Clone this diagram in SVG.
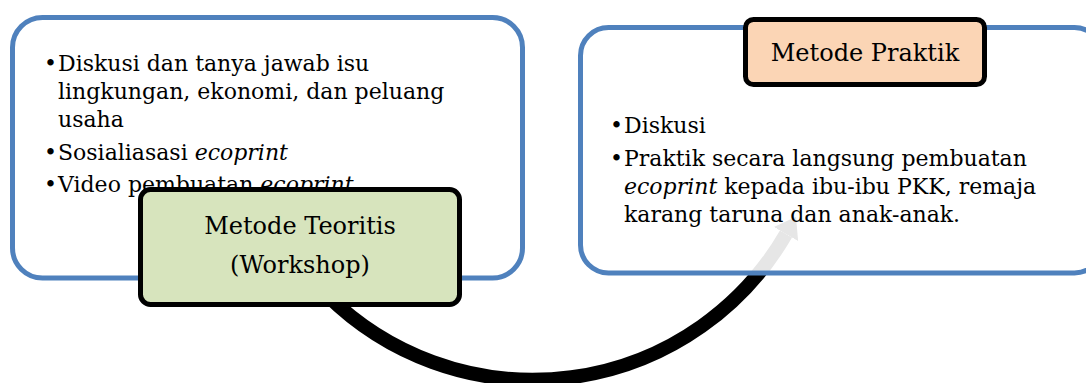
<svg xmlns="http://www.w3.org/2000/svg" width="1086" height="383" viewBox="0 0 1086 383">
<style>
.frame{fill:#fff;stroke:#4F81BD;stroke-width:5}
.body{font-family:"DejaVu Serif","Liberation Serif",serif;font-size:22px;fill:#000}
.lbl{font-family:"DejaVu Serif","Liberation Serif",serif;font-size:24px;fill:#000;text-anchor:middle}
.it{font-style:italic}
.node{stroke:#000;stroke-width:5}
</style>
<defs>
<marker id="head" markerUnits="userSpaceOnUse" markerWidth="22" markerHeight="30" refX="0" refY="14" orient="auto" viewBox="0 0 22 28">
<path d="M0,0 L20,14 L0,28 z" fill="#000"/>
</marker>
</defs>
<g id="box-teoritis-content">
<rect class="frame" x="12.5" y="17.5" width="510" height="260.5" rx="30"/>
<text class="body" x="44" y="71">•</text>
<text class="body" x="58" y="71">Diskusi dan tanya jawab isu</text>
<text class="body" x="58" y="99">lingkungan, ekonomi, dan peluang</text>
<text class="body" x="58" y="127">usaha</text>
<text class="body" x="44" y="160">•</text>
<text class="body" x="58" y="160">Sosialiasasi <tspan class="it">ecoprint</tspan></text>
<text class="body" x="44" y="192">•</text>
<text class="body" x="58" y="192">Video pembuatan <tspan class="it">ecoprint</tspan></text>
</g>
<g id="connectors">
<path d="M 327 295 A 292.5 292.5 0 0 0 786 234" fill="none" stroke="#000" stroke-width="14" marker-end="url(#head)"/>
</g>
<g id="box-praktik-content">
<rect class="frame" x="580.5" y="27.5" width="522" height="245.5" rx="28" style="fill-opacity:0.9"/>
<text class="body" x="610" y="133">•</text>
<text class="body" x="624" y="133">Diskusi</text>
<text class="body" x="610" y="166">•</text>
<text class="body" x="624" y="166">Praktik secara langsung pembuatan</text>
<text class="body" x="624" y="194"><tspan class="it">ecoprint</tspan> kepada ibu-ibu PKK, remaja</text>
<text class="body" x="624" y="222">karang taruna dan anak-anak.</text>
</g>
<g id="node-praktik">
<rect class="node" x="745.5" y="19.5" width="239" height="65" rx="8" fill="#FBD5B5"/>
<text class="lbl" x="865" y="61">Metode Praktik</text>
</g>
<g id="node-teoritis">
<rect class="node" x="140.5" y="189.5" width="319" height="115" rx="10" fill="#D7E4BD"/>
<text class="lbl" x="300" y="234">Metode Teoritis</text>
<text class="lbl" x="300" y="273">(Workshop)</text>
</g>
</svg>
